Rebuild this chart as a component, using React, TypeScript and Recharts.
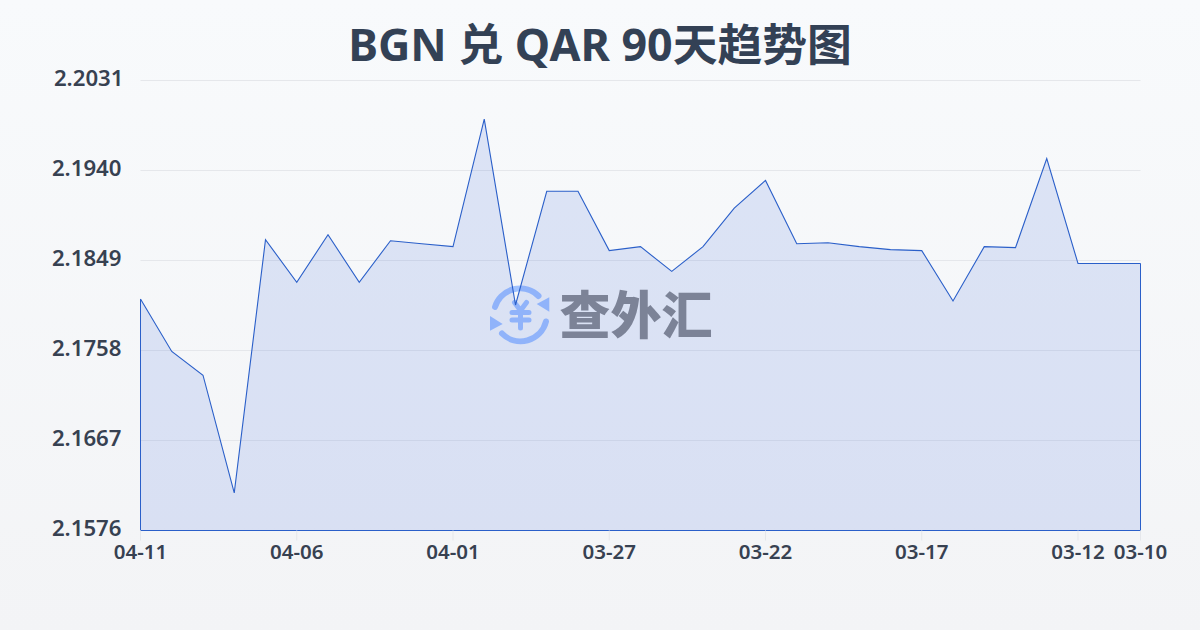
import { Area, AreaChart, CartesianGrid, ReferenceLine, XAxis, YAxis } from "recharts";

const dates = [
  "04-11", "04-10", "04-09", "04-08", "04-07", "04-06", "04-05", "04-04", "04-03", "04-02", "04-01",
  "03-31", "03-30", "03-29", "03-28", "03-27", "03-26", "03-25", "03-24", "03-23", "03-22",
  "03-21", "03-20", "03-19", "03-18", "03-17", "03-16", "03-15", "03-14", "03-13", "03-12", "03-11", "03-10",
];
const rates = [
  2.181, 2.1757, 2.1733, 2.1614, 2.187, 2.1827, 2.1875, 2.1827, 2.1869, 2.1866, 2.1863,
  2.1992, 2.1804, 2.1919, 2.1919, 2.1859, 2.1863, 2.1838, 2.1863, 2.1902, 2.193,
  2.1866, 2.1867, 2.1863, 2.186, 2.1859, 2.1808, 2.1863, 2.1862, 2.1952, 2.1846, 2.1846, 2.1846,
];
const xTicks = ["04-11", "04-06", "04-01", "03-27", "03-22", "03-17", "03-12", "03-10"];
const yTicks = [2.1576, 2.1667, 2.1758, 2.1849, 2.194, 2.2031];

const data = dates.map((date, i) => ({ date, rate: rates[i] }));

const LINE = "#2a5fc9";
const FONT = '"Noto Sans", "Noto Sans CJK SC", sans-serif';

// the top label sits a little further right than the others in the reference
function YTick({ x, y, payload }: any) {
  const nudge = payload.value === 2.2031 ? 2 : 0;
  return (
    <text x={x + nudge} y={y - 2} dy="0.355em" textAnchor="end" fontSize={22.2} fontWeight={600} fill="#374151">
      {payload.value.toFixed(4)}
    </text>
  );
}

function Watermark() {
  return (
    <svg width={1200} height={630} style={{ position: "absolute", left: 0, top: 0 }}>
      <g fill="none" stroke="#a0c2ff" strokeWidth={6} strokeLinecap="round">
        <path d="M495 307A26.2 26.2 0 0 1 538.5 296" />
        <path d="M502 333.5A26.2 26.2 0 0 0 546 321.5" />
        <path d="M514.5 302.5L520.5 310.5L526.5 302.5M512 312.5H529M512 320H529M520.5 310.5V328" strokeWidth={5} />
      </g>
      <path d="M549.3 297.3V311.7L536.7 304ZM490 316V330.7L502.7 324Z" fill="#a0c2ff" />
      <text x={636} y={334} textAnchor="middle" fontSize={51} fontWeight={900} fill="#8a8b8e" fontFamily={FONT}>
        查外汇
      </text>
    </svg>
  );
}

export default function App() {
  return (
    <div
      style={{
        position: "absolute",
        left: 0,
        top: 0,
        width: 1200,
        height: 630,
        overflow: "hidden",
        background: "linear-gradient(180deg, #f8fafc, #f3f4f6)",
        fontFamily: FONT,
      }}
    >
      <div
        style={{
          position: "absolute",
          left: 0,
          right: 0,
          top: 10,
          textAlign: "center",
          fontSize: 44.8,
          fontWeight: 700,
          lineHeight: "68px",
          color: "#334155",
        }}
      >
        BGN 兑 QAR 90天趋势图
      </div>
      <Watermark />
      <div style={{ position: "absolute", left: 0, top: 0 }}>
        <AreaChart width={1200} height={630} data={data} margin={{ top: 80.5, right: 59.5, bottom: 0, left: 0 }}>
          <CartesianGrid horizontal vertical={false} stroke="#e5e7eb" />
          <XAxis
            dataKey="date"
            ticks={xTicks}
            interval={0}
            axisLine={false}
            tickSize={10}
            tickLine={{ stroke: "#e5e7eb" }}
            tickMargin={4}
            height={99.5}
            tick={{ fontSize: 20.5, fontWeight: 600, fill: "#374151" }}
          />
          <YAxis
            width={140.5}
            domain={[2.1576, 2.2031]}
            ticks={yTicks}
            interval={0}
            axisLine={false}
            tickLine={false}
            tickSize={0}
            tickMargin={19}
            tick={YTick}
          />
          <Area
            type="linear"
            dataKey="rate"
            stroke={LINE}
            strokeWidth={1.1}
            fill="#1d4ed8"
            fillOpacity={0.125}
            isAnimationActive={false}
            dot={false}
            activeDot={false}
          />
          <ReferenceLine y={2.1576} stroke={LINE} strokeWidth={1} />
          <ReferenceLine segment={[{ x: "04-11", y: 2.1576 }, { x: "04-11", y: rates[0] }]} stroke={LINE} strokeWidth={1} />
          <ReferenceLine segment={[{ x: "03-10", y: 2.1576 }, { x: "03-10", y: rates[32] }]} stroke={LINE} strokeWidth={1} />
        </AreaChart>
      </div>
    </div>
  );
}
